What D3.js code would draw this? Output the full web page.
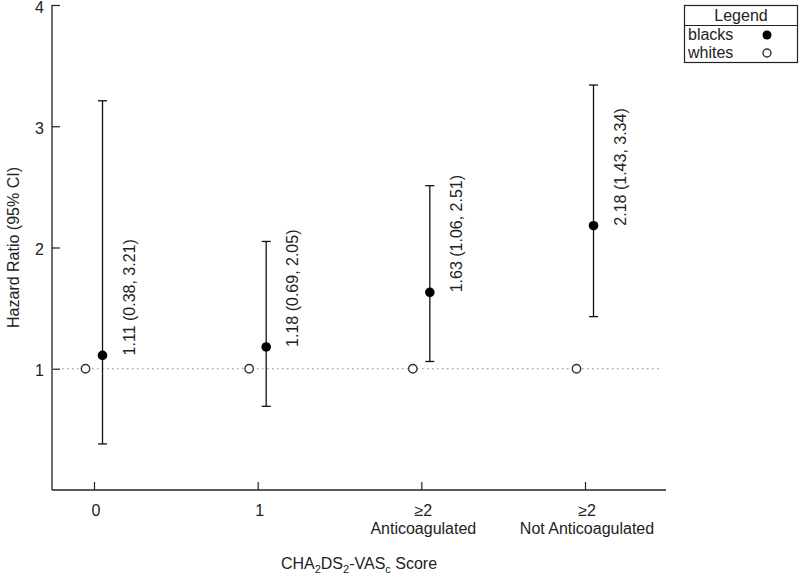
<!DOCTYPE html>
<html>
<head>
<meta charset="utf-8">
<script src="https://cdn.jsdelivr.net/npm/d3@7"></script>
<style>
  body { margin: 0; background: #fff; }
  svg { display: block; font-family: "Liberation Sans", Arial, sans-serif; }
</style>
</head>
<body>
<svg id="chart" width="800" height="577"></svg>
<script>
const categories = ["0", "1", "≥2|Anticoagulated", "≥2|Not Anticoagulated"];
const blacksHR = [1.11, 1.18, 1.63, 2.18];
const blacksLower = [0.38, 0.69, 1.06, 1.43];
const blacksUpper = [3.21, 2.05, 2.51, 3.34];
const whitesHR = [1, 1, 1, 1];
const yTicks = [1, 2, 3, 4];
const legendItems = ["blacks", "whites"];

const svg = d3.select("#chart");
const textCol = "#222";
const lineCol = "#222";

const x = d3.scaleLinear().domain([1, 4]).range([94, 585]);
const y = d3.scaleLinear().domain([0, 4]).range([490, 5]);
const pLeft = 52, pRight = 666, pBottom = 490, pTop = 5;
const off = 0.052;

// axes lines
svg.append("line").attr("x1", pLeft).attr("x2", pLeft).attr("y1", pTop).attr("y2", pBottom)
  .attr("stroke", lineCol).attr("stroke-width", 1.3);
svg.append("line").attr("x1", pLeft).attr("x2", pRight).attr("y1", pBottom).attr("y2", pBottom)
  .attr("stroke", lineCol).attr("stroke-width", 1.3);

// y ticks (inward)
const yAxis = d3.axisRight(y).tickValues(yTicks).tickSize(8).tickFormat(d3.format("d"));
const yg = svg.append("g").attr("transform", `translate(${pLeft},0)`).call(yAxis);
yg.select(".domain").remove();
yg.selectAll(".tick line").attr("stroke", lineCol).attr("stroke-width", 1.2);
yg.selectAll(".tick text").attr("x", -8).attr("dy", "0.44em").attr("text-anchor", "end")
  .attr("fill", textCol).style("font-size", "16px").style("font-family", "'Liberation Sans', Arial, sans-serif");

// x ticks (inward)
const xAxis = d3.axisTop(x).tickValues([1, 2, 3, 4]).tickSize(8).tickFormat("");
const xg = svg.append("g").attr("transform", `translate(0,${pBottom})`).call(xAxis);
xg.select(".domain").remove();
xg.selectAll(".tick line").attr("stroke", lineCol).attr("stroke-width", 1.2);

categories.forEach((c, i) => {
  const lines = c.split("|");
  const t = svg.append("text").attr("x", x(i + 1) + 2).attr("y", 516)
    .attr("text-anchor", "middle").attr("fill", textCol).style("font-size", "16px");
  lines.forEach((l, j) => {
    t.append("tspan").attr("x", x(i + 1) + 2).attr("y", 516 + j * 18).text(l);
  });
});

// reference dotted line at 1
svg.append("line").attr("x1", pLeft).attr("x2", 662).attr("y1", y(1)).attr("y2", y(1))
  .attr("stroke", "#888").attr("stroke-width", 1).attr("stroke-dasharray", "1.5,3.5");

// error bars
const g = svg.append("g");
blacksHR.forEach((v, i) => {
  const bx = x(i + 1 + off);
  g.append("line").attr("x1", bx).attr("x2", bx).attr("y1", y(blacksLower[i])).attr("y2", y(blacksUpper[i]))
    .attr("stroke", "#111").attr("stroke-width", 1.3);
  [blacksLower[i], blacksUpper[i]].forEach(e => {
    g.append("line").attr("x1", bx - 4.5).attr("x2", bx + 4.5).attr("y1", y(e)).attr("y2", y(e))
      .attr("stroke", "#111").attr("stroke-width", 1.3);
  });
});

// whites points
whitesHR.forEach((v, i) => {
  g.append("circle").attr("cx", x(i + 1 - off)).attr("cy", y(v)).attr("r", 4.2)
    .attr("fill", "#fff").attr("stroke", "#333").attr("stroke-width", 1.4);
});

// blacks points
blacksHR.forEach((v, i) => {
  g.append("circle").attr("cx", x(i + 1 + off)).attr("cy", y(v)).attr("r", 4.8)
    .attr("fill", "#000");
});

// annotations
const fmt = d3.format(".2f");
blacksHR.forEach((v, i) => {
  const tx = x(i + 1 + off) + 32, ty = y(v);
  svg.append("text").attr("transform", `translate(${tx},${ty}) rotate(-90)`)
    .attr("text-anchor", "start").attr("fill", textCol).style("font-size", "16px")
    .text(`${fmt(v)} (${fmt(blacksLower[i])}, ${fmt(blacksUpper[i])})`);
});

// axis titles
svg.append("text").attr("transform", `translate(19,${(pTop + pBottom) / 2}) rotate(-90)`)
  .attr("text-anchor", "middle").attr("fill", textCol).style("font-size", "16px")
  .text("Hazard Ratio (95% CI)");

const xt = svg.append("text").attr("x", (pLeft + pRight) / 2).attr("y", 569)
  .attr("text-anchor", "middle").attr("fill", textCol).style("font-size", "16px");
const parts = [["CHA", false], ["2", true], ["DS", false], ["2", true], ["-VAS", false], ["c", true], [" Score", false]];
parts.forEach(([s, sub], i) => {
  const prevSub = i > 0 && parts[i - 1][1];
  const ts = xt.append("tspan").text(s);
  if (sub) ts.style("font-size", "11px");
  if (sub && !prevSub) ts.attr("dy", 4);
  else if (!sub && prevSub) ts.attr("dy", -4);
});

// legend
const lg = svg.append("g");
lg.append("rect").attr("x", 684.5).attr("y", 5.5).attr("width", 113).attr("height", 57)
  .attr("fill", "#fff").attr("stroke", "#222").attr("stroke-width", 1.2);
lg.append("line").attr("x1", 684.5).attr("x2", 797.5).attr("y1", 25.5).attr("y2", 25.5)
  .attr("stroke", "#222").attr("stroke-width", 1.2);
lg.append("text").attr("x", 741).attr("y", 21).attr("text-anchor", "middle")
  .attr("fill", textCol).style("font-size", "16px").text("Legend");
legendItems.forEach((name, i) => {
  const ly = 40 + i * 18;
  lg.append("text").attr("x", 688).attr("y", ly).attr("fill", textCol)
    .style("font-size", "16px").text(name);
  const c = lg.append("circle").attr("cx", 767).attr("cy", ly - 5).attr("r", i === 0 ? 4.5 : 4);
  if (i === 0) c.attr("fill", "#000");
  else c.attr("fill", "#fff").attr("stroke", "#333").attr("stroke-width", 1.4);
});
</script>
</body>
</html>
